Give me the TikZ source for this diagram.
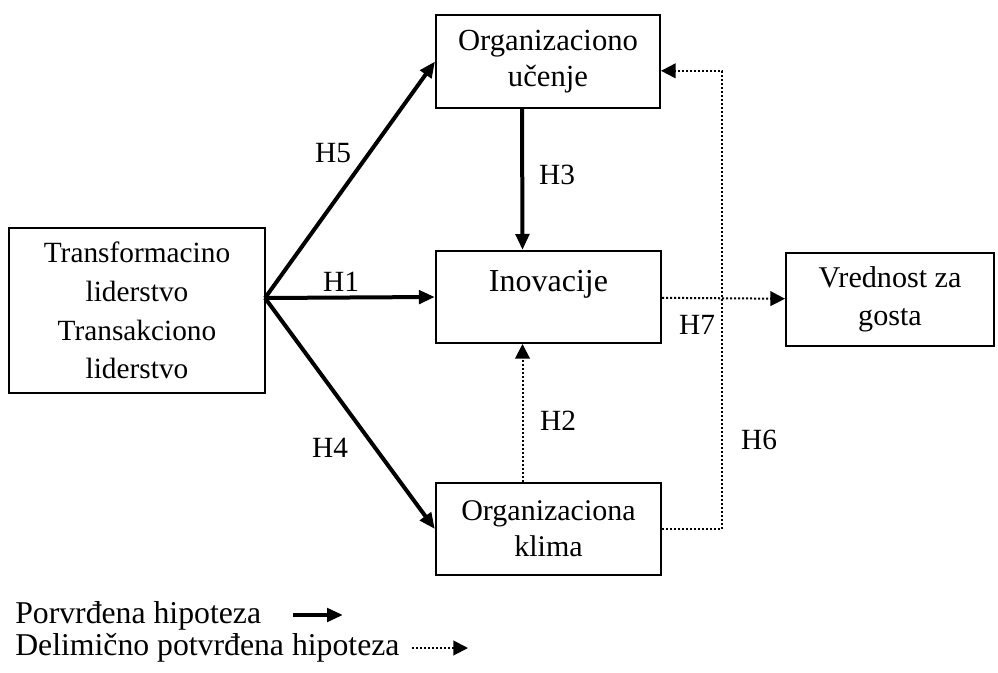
\documentclass[tikz,border=0pt]{standalone}
\usepackage{fontspec}
\setmainfont{Liberation Serif}
\usetikzlibrary{arrows.meta}
\tikzset{
  box/.style={draw, line width=1.5pt, rectangle, align=center, inner sep=0pt},
  solidarrow/.style={line width=3pt, -{Triangle[length=12pt, width=10pt]}},
  dotarrow/.style={line width=1.5pt, dash pattern=on 1.5pt off 1.5pt, -{Triangle[length=11pt, width=11pt]}},
}
\begin{document}
\begin{tikzpicture}[x=0.75pt, y=-0.75pt, every node/.style={font=\fontsize{22}{27}\selectfont}]
\useasboundingbox (0,0) rectangle (998,673);
    \node[box, minimum width=192pt, minimum height=124pt, font=\fontsize{22}{29}\selectfont] (lider) at (137,310.5) {Transformacino\\liderstvo\\Transakciono\\liderstvo};
    \node[box, minimum width=168pt, minimum height=70pt, font=\fontsize{23}{26.5}\selectfont] (ucenje) at (548,61.5) {Organizaciono\\u\v{c}enje};
    \node[box, minimum width=169pt, minimum height=69pt, text height=17pt, text depth=25pt, font=\fontsize{24}{29}\selectfont] (inov) at (548.5,297) {Inovacije};
    \node[box, minimum width=169pt, minimum height=69pt, font=\fontsize{22.5}{27}\selectfont] (klima) at (548.5,529) {Organizaciona\\klima};
    \node[box, minimum width=156pt, minimum height=70pt, font=\fontsize{22.6}{28.5}\selectfont] (vred) at (890,299.5) {Vrednost za\\gosta};
\coordinate (src) at (265,298);
\coordinate (bend) at (722,0);
\node (h5) at (333,153) {H5};
\node (h1) at (341,282) {H1};
\node (h4) at (330,448) {H4};
\node (h3) at (557,175) {H3};
\node (h2) at (558,421) {H2};
\node (h7) at (697,325) {H7};
\node (h6) at (759,440) {H6};
    \foreach \from/\to in {src/ucenje.west, src/inov.west, src/klima.west}
        \draw[solidarrow] (\from) -- (\to);
    \foreach \from/\to in {inov/vred}
        \draw[dotarrow] (\from) -- (\to);
\draw[solidarrow] ([xshift=-19.5pt]ucenje.south) -- ([xshift=-19.5pt]inov.north);
\draw[dotarrow] ([xshift=-19.5pt]klima.north) -- ([xshift=-19.5pt]inov.south);
\draw[dotarrow] (klima.east) -- (klima.east -| bend) -- ([yshift=-7pt]ucenje.east -| bend) -- ([yshift=-7pt]ucenje.east);
% legend
\node[anchor=base west, inner sep=0pt, font=\fontsize{23.8}{28}\selectfont] (leg1) at (15,623) {Porvr\dj ena hipoteza};
\node[anchor=base west, inner sep=0pt, font=\fontsize{23.8}{28}\selectfont] (leg2) at (15,655) {Delimi\v{c}no potvr\dj ena hipoteza};
\coordinate (a1) at (293,615);
\coordinate (b1) at (343,615);
\coordinate (a2) at (412,648);
\coordinate (b2) at (468,648);
\draw[solidarrow] (a1) -- (b1);
\draw[dotarrow] (a2) -- (b2);
\end{tikzpicture}
\end{document}
